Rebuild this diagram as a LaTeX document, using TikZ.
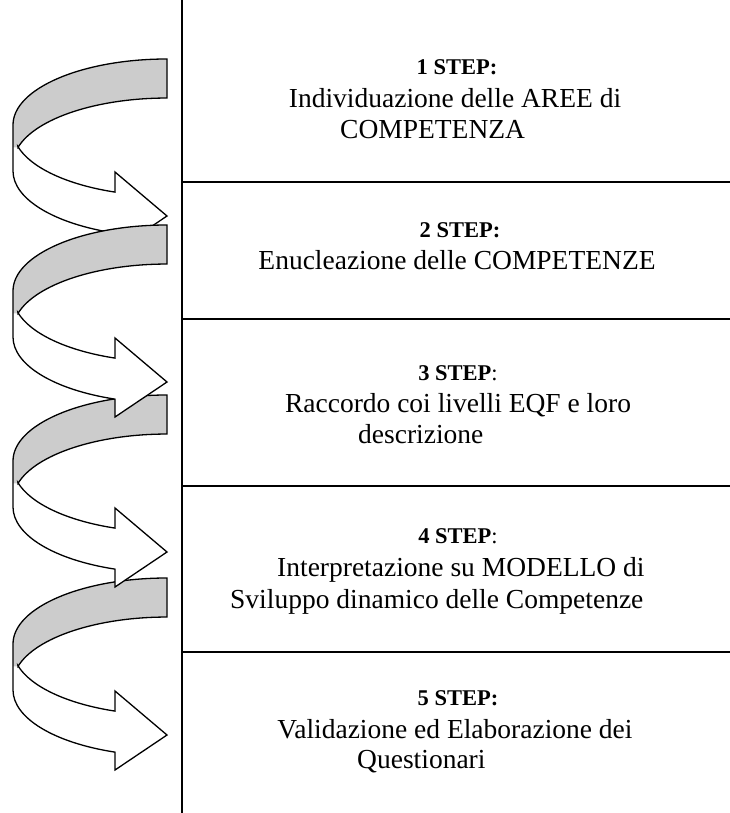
\documentclass[tikz,border=0pt]{standalone}
\usepackage{fontspec}
\setmainfont{Liberation Serif}
\definecolor{ribbon}{HTML}{CCCCCC}
\tikzset{
  rule/.style={line width=2pt},
  ribbonline/.style={line width=1.3pt, line join=miter},
  headtxt/.style={font=\fontsize{22.5}{27}\selectfont, inner sep=0pt, anchor=base},
  bodytxt/.style={font=\fontsize{27.5}{31.6}\selectfont, inner sep=0pt, anchor=base},
  bodyleft/.style={bodytxt, anchor=base west},
  ell/.style={x radius=154pt, y radius=66pt}
}
\newcommand\spiralarrow[1]{%
  \fill[white] (167,#1) arc[start angle=90,end angle=180,ell]
    -- (13,#1+112) arc[start angle=180,end angle=250.3,ell]
    -- (115,#1+192) -- (167,#1+157) -- (115,#1+113) -- (115,#1+133.1)
    arc[start angle=250.3,end angle=194.6,ell]
    -- (18,#1+88.4) arc[start angle=165.4,end angle=90,ell] -- cycle;
  \fill[ribbon] (167,#1) arc[start angle=90,end angle=180,ell]
    -- (13,#1+88.4) -- (18,#1+88.4) arc[start angle=165.4,end angle=90,ell] -- cycle;
  \draw[ribbonline] (167,#1) arc[start angle=90,end angle=180,ell]
    -- (13,#1+112) arc[start angle=180,end angle=250.3,ell]
    -- (115,#1+192) -- (167,#1+157) -- (115,#1+113) -- (115,#1+133.1)
    arc[start angle=250.3,end angle=194.6,ell]
    -- (18,#1+88.4) arc[start angle=165.4,end angle=90,ell] -- cycle;
}
\begin{document}
\begin{tikzpicture}[x=1pt,y=-1pt]
\useasboundingbox (0,0) rectangle (730,813);
\fill[white] (0,0) rectangle (730,813);
% table rules
\draw[rule] (182,0) -- (182,813);
\draw[rule] (182,182) -- (730,182);
\draw[rule] (182,319) -- (730,319);
\draw[rule] (182,486) -- (730,486);
\draw[rule] (182,652) -- (730,652);
% spiral arrows
\spiralarrow{59}
\spiralarrow{578}
\spiralarrow{395}
\spiralarrow{225}
% texts
\node[headtxt] (h1) at (457,75) {\textbf{1 STEP:}};
\node[bodytxt] (t1a) at (455,108) {Individuazione delle AREE di};
\node[bodyleft] (t1b) at (340,139) {COMPETENZA};
\node[headtxt] (h2) at (460,237) {\textbf{2 STEP:}};
\node[bodytxt] (t2a) at (457,269) {Enucleazione delle COMPETENZE};
\node[headtxt] (h3) at (458,380) {\textbf{3 STEP}:};
\node[bodytxt] (t3a) at (458,412) {Raccordo coi livelli EQF e loro};
\node[bodyleft] (t3b) at (358,443) {descrizione};
\node[headtxt] (h4) at (458,543) {\textbf{4 STEP}:};
\node[bodyleft] (t4a) at (277,576) {Interpretazione su MODELLO di};
\node[bodyleft] (t4b) at (230,608) {Sviluppo dinamico delle Competenze};
\node[headtxt] (h5) at (458,705) {\textbf{5 STEP:}};
\node[bodytxt] (t5a) at (455,738) {Validazione ed Elaborazione dei};
\node[bodyleft] (t5b) at (357,768) {Questionari};
\end{tikzpicture}
\end{document}
